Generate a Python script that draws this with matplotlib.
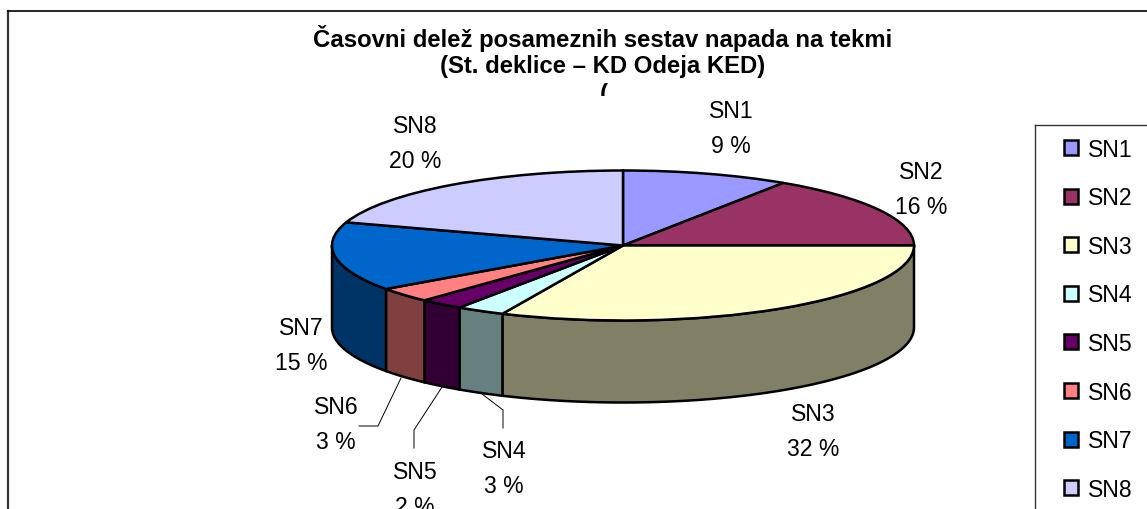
import matplotlib
matplotlib.use("Agg")
import matplotlib.pyplot as plt
import numpy as np
from matplotlib.patches import Polygon, Rectangle

plt.rcParams["font.family"] = ["Liberation Sans", "DejaVu Sans"]

W, H = 1147, 510

# Data
names = ["SN1", "SN2", "SN3", "SN4", "SN5", "SN6", "SN7", "SN8"]
shares = [9.3, 15.7, 31.8, 2.7, 2.45, 3.2, 14.85, 20]
top_colors = ["#9999FF", "#993366", "#FFFFCC", "#CCFFFF", "#660066", "#FF8080", "#0066CC", "#CCCCFF"]
side_colors = ["#4D4D80", "#4D1A33", "#808066", "#668080", "#330033", "#804040", "#003366", "#666680"]
title_lines = ["Časovni delež posameznih sestav napada na tekmi", "(St. deklice – KD Odeja KED)"]
label_centers = [(731, 129), (921, 190), (813, 432), (504, 469), (415, 490), (336, 425), (301, 346), (415, 144)]

# Pie geometry in pixels
cx, cy, rx, ry, depth = 623, 246.5, 291, 75, 82

fig = plt.figure(figsize=(W / 100, H / 100), dpi=100, facecolor="white")

# Pixel axes for frame, text and leaders
ax = fig.add_axes([0, 0, 1, 1])
ax.set_xlim(0, W)
ax.set_ylim(H, 0)
ax.axis("off")

# Pie axes: one data unit is one radius, squashed to an ellipse
pie_ax = fig.add_axes([0, 0, 1, 1])
wedges, _ = pie_ax.pie(
    shares,
    colors=top_colors,
    startangle=90,
    counterclock=False,
    wedgeprops={"edgecolor": "black", "linewidth": 1.8, "zorder": 5},
)
pie_ax.set_aspect("auto")
pie_ax.set_xlim(-cx / rx, (W - cx) / rx)
pie_ax.set_ylim(-(H - cy) / ry, cy / ry)
pie_ax.patch.set_alpha(0)

# Side wall, only the front half shows
d = depth / ry
edges = 360 * np.cumsum([0] + shares) / sum(shares)
for i in range(len(shares)):
    a0, a1 = max(edges[i], 90), min(edges[i + 1], 270)
    if a1 <= a0:
        continue
    t = np.radians(np.linspace(a0, a1, 60))
    x, y = np.sin(t), np.cos(t)
    pts = np.vstack([np.c_[x, y], np.c_[x[::-1], y[::-1] - d]])
    pie_ax.add_patch(Polygon(pts, closed=True, facecolor=side_colors[i],
                             edgecolor="black", linewidth=1.8, zorder=3))

# Frame, runs off the picture on the right and bottom
ax.plot([8, 8], [H, 12], color="#333333", lw=1.6)
ax.plot([8, W], [12, 12], color="black", lw=1.2)

# Title
ax.text(603, 38, title_lines[0], ha="center", va="center", fontsize=17.2, fontweight="bold")
ax.text(603, 66, title_lines[1], ha="center", va="center", fontsize=17.2, fontweight="bold")
stray = ax.text(604, 95, "(", ha="center", va="center", fontsize=17.2, fontweight="bold")
stray.set_clip_on(True)
stray.set_clip_path(Rectangle((595, 80), 20, 17, transform=ax.transData))

# Data labels
for name, share, (lx, ly) in zip(names, shares, label_centers):
    ax.text(lx, ly, f"{name}\n{round(share)} %", ha="center", va="center",
            fontsize=16.6, linespacing=1.68, clip_on=True)

# Leader lines
ax.plot([401, 378, 359], [379, 427, 427], color="black", lw=0.7)
ax.plot([442, 414, 414], [388, 431, 449], color="black", lw=0.7)
ax.plot([482, 503, 503], [395, 411, 429], color="black", lw=0.7)

# Legend
ax.plot([1035, 1035], [H, 126], color="#333333", lw=1)
ax.plot([1035, W], [126, 126], color="#333333", lw=1)
leg = ax.legend(
    wedges,
    names,
    loc="upper left",
    bbox_to_anchor=(1059 / W, 1 - 134 / H),
    frameon=False,
    fontsize=16.6,
    handlelength=0.62,
    handleheight=0.62,
    handletextpad=0.42,
    labelspacing=1.11,
    borderpad=0.2,
    borderaxespad=0,
)
ax.set_zorder(2)
pie_ax.set_zorder(1)

fig.savefig("out.png", dpi=100)
